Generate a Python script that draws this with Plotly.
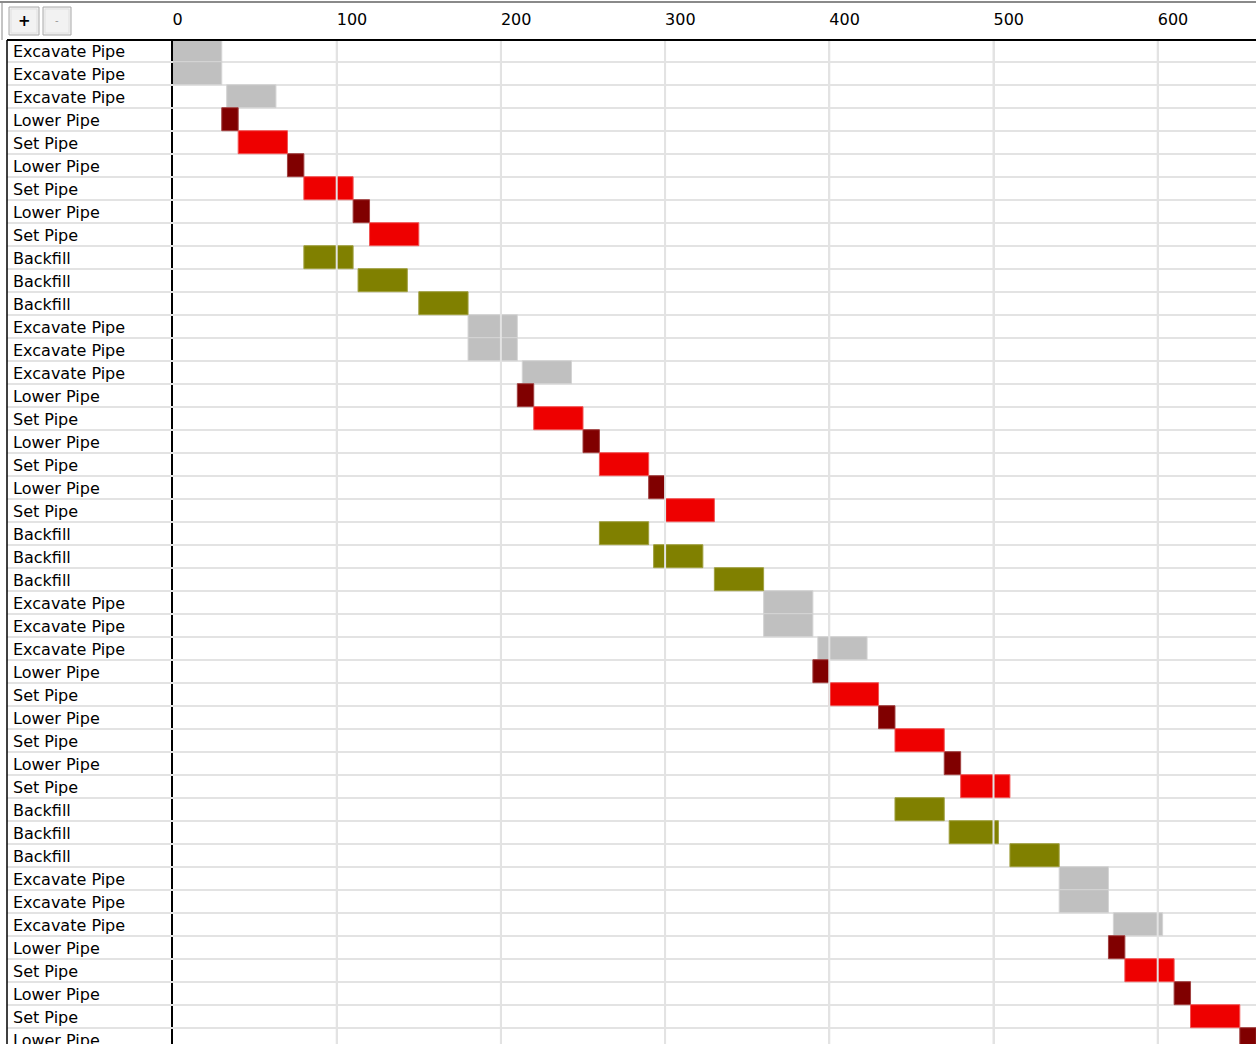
import plotly.graph_objects as go

# ---------------- data ----------------
task_labels = [
    "Excavate Pipe", "Excavate Pipe", "Excavate Pipe", "Lower Pipe", "Set Pipe", "Lower Pipe",
    "Set Pipe", "Lower Pipe", "Set Pipe", "Backfill", "Backfill", "Backfill",
    "Excavate Pipe", "Excavate Pipe", "Excavate Pipe", "Lower Pipe", "Set Pipe", "Lower Pipe",
    "Set Pipe", "Lower Pipe", "Set Pipe", "Backfill", "Backfill", "Backfill",
    "Excavate Pipe", "Excavate Pipe", "Excavate Pipe", "Lower Pipe", "Set Pipe", "Lower Pipe",
    "Set Pipe", "Lower Pipe", "Set Pipe", "Backfill", "Backfill", "Backfill",
    "Excavate Pipe", "Excavate Pipe", "Excavate Pipe", "Lower Pipe", "Set Pipe", "Lower Pipe",
    "Set Pipe", "Lower Pipe",
]
task_start = [
    0, 0, 33, 30, 40, 70, 80, 110, 120, 80, 113, 150,
    180, 180, 213, 210, 220, 250, 260, 290, 300, 260, 293, 330,
    360, 360, 393, 390, 400, 430, 440, 470, 480, 440, 473, 510,
    540, 540, 573, 570, 580, 610, 620, 650,
]
task_end = [
    30, 30, 63, 40, 70, 80, 110, 120, 150, 110, 143, 180,
    210, 210, 243, 220, 250, 260, 290, 300, 330, 290, 323, 360,
    390, 390, 423, 400, 430, 440, 470, 480, 510, 470, 503, 540,
    570, 570, 603, 580, 610, 620, 650, 660,
]
x_ticks = [0, 100, 200, 300, 400, 500, 600]
task_types = ["Excavate Pipe", "Lower Pipe", "Set Pipe", "Backfill"]
task_colors = ["#C0C0C0", "#800000", "#EE0000", "#808000"]
task_outline = ["#D4D4D4", "#A04040", "#F25555", "#A0A040"]

# ---------------- geometry ----------------
W, H = 1256, 1044
HEADER = 40
LEFT = 7
AXIS_X = 172.5
PX_PER_UNIT = 1.642
ROW_PX = 23
ROW0_CENTER = 50.2

def px_x(p):
    return p / W

def px_y(p):
    return 1 - p / H

y_top = (HEADER - ROW0_CENTER) / ROW_PX
y_bot = (H - ROW0_CENTER) / ROW_PX
x_max = (W - AXIS_X) / PX_PER_UNIT

rows = list(range(len(task_labels)))
FONT = "DejaVu Sans"
GRID = "#E3E3E3"

fig = go.Figure()

# bars, one trace per task type
for name, col, oc in zip(task_types, task_colors, task_outline):
    idx = [i for i in rows if task_labels[i] == name]
    fig.add_trace(go.Bar(
        orientation="h",
        y=idx,
        base=[task_start[i] for i in idx],
        x=[task_end[i] - task_start[i] for i in idx],
        width=1,
        marker=dict(color=col, line=dict(color=oc, width=1)),
        name=name,
        xaxis="x", yaxis="y",
        hovertemplate=name + ": %{base} - %{x}<extra></extra>",
    ))

# vertical grid lines drawn above the bars (from tick list)
gx, gy = [], []
for t in x_ticks[1:]:
    gx += [t, t, None]
    gy += [y_top - 1, y_bot + 1, None]
fig.add_trace(go.Scatter(
    x=gx, y=gy, mode="lines", line=dict(color=GRID, width=2),
    hoverinfo="skip", xaxis="x", yaxis="y",
))

# invisible trace so the left subplot exists
fig.add_trace(go.Scatter(
    x=[0] * len(rows), y=rows, mode="markers", marker=dict(opacity=0),
    hoverinfo="skip", xaxis="x2", yaxis="y2",
))

ydom = [0, px_y(HEADER)]
fig.update_layout(
    width=W, height=H,
    margin=dict(l=0, r=0, t=0, b=0),
    paper_bgcolor="white", plot_bgcolor="white",
    showlegend=False, barmode="overlay",
    xaxis=dict(
        domain=[px_x(AXIS_X), 1], range=[0, x_max], side="top", anchor="y",
        tickmode="array", tickvals=x_ticks, ticktext=[str(t) for t in x_ticks],
        ticklabelposition="outside right", ticks="", ticklabelstandoff=11,
        tickfont=dict(family=FONT, size=16, color="#000000"),
        showgrid=True, gridcolor=GRID, gridwidth=2, zeroline=False, showline=False,
        fixedrange=True,
    ),
    yaxis=dict(
        domain=ydom, range=[y_bot, y_top], anchor="x",
        tickmode="linear", tick0=0.5, dtick=1, showticklabels=False, ticks="",
        showgrid=True, gridcolor=GRID, gridwidth=2, zeroline=False,
        showline=True, linecolor="#000000", linewidth=2, fixedrange=True,
    ),
    xaxis2=dict(
        domain=[px_x(LEFT), px_x(AXIS_X)], range=[-6 / (AXIS_X - LEFT), 1 - 6 / (AXIS_X - LEFT)],
        anchor="y2", showgrid=False, zeroline=False, showticklabels=False, ticks="",
        fixedrange=True,
    ),
    yaxis2=dict(
        domain=ydom, range=[y_bot, y_top], anchor="x2", matches="y",
        tickmode="linear", tick0=0.5, dtick=1, showticklabels=False, ticks="",
        showgrid=True, gridcolor=GRID, gridwidth=2, zeroline=False, fixedrange=True,
    ),
)

# row labels (left-aligned text in the label column)
for r, lab in zip(rows, task_labels):
    fig.add_annotation(
        xref="x2", yref="y2", x=0, y=r, text=lab, showarrow=False,
        xanchor="left", yanchor="middle", yshift=-1, xshift=-2,
        font=dict(family=FONT, size=16, color="#000000"),
    )

shapes = [
    # top frame line
    dict(type="line", xref="paper", yref="paper", x0=0, x1=1, y0=px_y(2), y1=px_y(2),
         line=dict(color="#8A8A8A", width=2)),
    # header bottom line
    dict(type="line", xref="paper", yref="paper", x0=px_x(LEFT), x1=1, y0=px_y(HEADER), y1=px_y(HEADER),
         line=dict(color="#000000", width=2)),
    # left frame line
    dict(type="line", xref="paper", yref="paper", x0=px_x(LEFT), x1=px_x(LEFT), y0=0, y1=px_y(HEADER),
         line=dict(color="#000000", width=1.5)),
    dict(type="line", xref="paper", yref="paper", x0=px_x(2), x1=px_x(2), y0=px_y(HEADER), y1=px_y(2),
         line=dict(color="#8A8A8A", width=1)),
]
# buttons
for (bx0, bx1) in [(9, 39), (43, 71)]:
    shapes.append(dict(type="rect", xref="paper", yref="paper",
                       x0=px_x(bx0), x1=px_x(bx1), y0=px_y(35), y1=px_y(7),
                       line=dict(color="#A8A8A8", width=1), fillcolor="#F2F2F2"))
    shapes.append(dict(type="rect", xref="paper", yref="paper",
                       x0=px_x(bx0 + 2), x1=px_x(bx1 - 2), y0=px_y(33), y1=px_y(9),
                       line=dict(color="#E0E0E0", width=1), fillcolor="rgba(0,0,0,0)"))
fig.update_layout(shapes=shapes)

fig.add_annotation(xref="paper", yref="paper", x=px_x(24), y=px_y(21), text="<b>+</b>",
                   xanchor="center", yanchor="middle",
                   showarrow=False, font=dict(family=FONT, size=15, color="#000000"))
fig.add_annotation(xref="paper", yref="paper", x=px_x(57), y=px_y(21), text="-",
                   xanchor="center", yanchor="middle",
                   showarrow=False, font=dict(family=FONT, size=10, color="#999999"))

fig.write_html("out.html", config={"displayModeBar": False},
               post_script="document.body.style.margin='0px';document.body.style.overflow='hidden';")
